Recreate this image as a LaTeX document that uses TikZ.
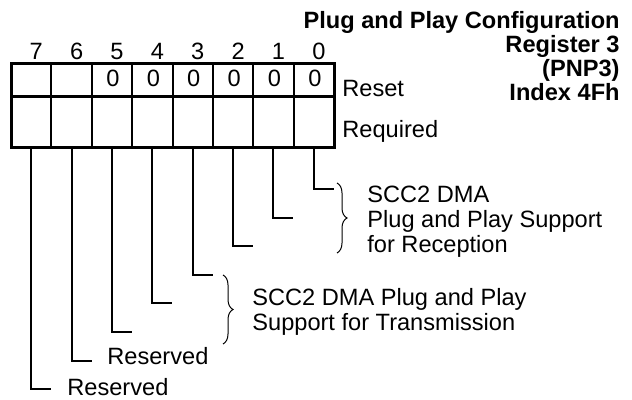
\documentclass[tikz,border=0pt]{standalone}
\usepackage{fontspec}
\setmainfont{Liberation Sans}
\usetikzlibrary{decorations.pathreplacing}

\begin{document}
\begin{tikzpicture}[x=0.5pt,y=-0.5pt,
  txt/.style={inner sep=0pt,anchor=base west,font=\fontsize{11.8}{12.4}\selectfont},
  para/.style={inner sep=0pt,anchor=north west,align=left,font=\fontsize{11.8}{12.4}\selectfont},
  bitno/.style={inner sep=0pt,anchor=base,font=\fontsize{11.8}{12.4}\selectfont},
  lead/.style={line width=1pt},
  brc/.style={decorate,decoration={brace,amplitude=5pt},line width=0.5pt}]
\useasboundingbox (0,0) rectangle (632,400);
% title
\node[inner sep=0pt,anchor=north east,align=right,font=\fontsize{11.8}{12}\selectfont\bfseries]
  (title) at (620,11) {Plug and Play Configuration\\Register 3\\(PNP3)\\Index 4Fh};
% register
\draw[line width=1.5pt] (11,64) rectangle (334,148);
\draw[line width=1.5pt] (11,97)--(334,97);
\foreach \k in {1,...,7} \draw[line width=1pt] ({11+40.375*\k},64)--({11+40.375*\k},148);
\foreach \b in {0,...,7}{
  \pgfmathsetmacro{\cx}{31.2+40.375*(7-\b)}
  \node[bitno] (n\b) at ({\cx+5},60) {\b};
  \coordinate (b\b) at (\cx,148);
  \coordinate (e\b) at ({\cx+20},{189+28.6*\b});
}
\foreach \b in {0,...,5}{
  \pgfmathsetmacro{\cx}{31.2+40.375*(7-\b)}
  \node[bitno] (z\b) at ({\cx+1},87) {0};
}
\node[txt] (lblreset) at (342,97) {Reset};
\node[txt] (lblreq) at (342,138) {Required};
% bit leads
\foreach \b in {0,...,7} \draw[lead] (b\b) |- (e\b);
% descriptions
\draw[brc] (337,183) coordinate (rxt) -- (337,253) coordinate (rxb);
\node[para] (rx) at (367,186) {SCC2 DMA\\Plug and Play Support\\for Reception};
\draw[brc] (223,275) coordinate (txt) -- (223,344) coordinate (txb);
\node[para] (tx) at (252,288) {SCC2 DMA Plug and Play\\Support for Transmission};
\node[txt] (res6) at (107,365) {Reserved};
\node[txt] (res7) at (67,396) {Reserved};
\end{tikzpicture}
\end{document}
